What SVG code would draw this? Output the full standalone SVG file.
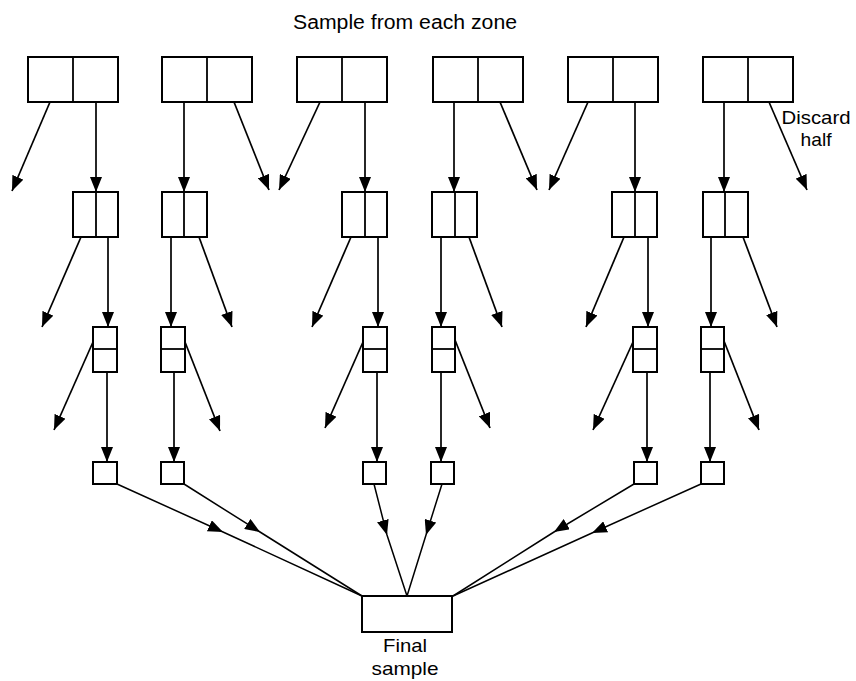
<svg xmlns="http://www.w3.org/2000/svg" width="856" height="681" viewBox="0 0 856 681">
<style>
.box{fill:#fff;stroke:#000;stroke-width:2}
.div{stroke:#000;stroke-width:1.8}
.ar{stroke:#000;stroke-width:1.7;fill:none;marker-end:url(#ah)}
.mid{stroke:#000;stroke-width:1.5;fill:none;marker-mid:url(#ah)}
text{font-family:"Liberation Sans",Arial,sans-serif;font-size:20px;fill:#000}
.lbl{font-size:19px}
</style>
<defs>
<marker id="ah" markerUnits="userSpaceOnUse" markerWidth="16" markerHeight="12" refX="15" refY="6" orient="auto">
<path d="M0,0 L15,6 L0,12 z" fill="#000"/>
</marker>
</defs>
<rect width="856" height="681" fill="#fff"/>
<text x="405" y="29" text-anchor="middle" textLength="224" lengthAdjust="spacingAndGlyphs">Sample from each zone</text>
<text class="lbl" x="816" y="124" text-anchor="middle" textLength="69" lengthAdjust="spacingAndGlyphs">Discard</text>
<text class="lbl" x="816" y="146" text-anchor="middle" textLength="31" lengthAdjust="spacingAndGlyphs">half</text>
<text class="lbl" x="405" y="652" text-anchor="middle" textLength="44" lengthAdjust="spacingAndGlyphs">Final</text>
<text class="lbl" x="405" y="675" text-anchor="middle" textLength="67" lengthAdjust="spacingAndGlyphs">sample</text>

<g id="top1"><rect class="box" x="28" y="57" width="90" height="45"/><line class="div" x1="73" y1="57" x2="73" y2="102"/></g>
<g id="top2"><rect class="box" x="162" y="57" width="90" height="45"/><line class="div" x1="207" y1="57" x2="207" y2="102"/></g>
<g id="top3"><rect class="box" x="297" y="57" width="90" height="45"/><line class="div" x1="342" y1="57" x2="342" y2="102"/></g>
<g id="top4"><rect class="box" x="433" y="57" width="90" height="45"/><line class="div" x1="478" y1="57" x2="478" y2="102"/></g>
<g id="top5"><rect class="box" x="568" y="57" width="90" height="45"/><line class="div" x1="613" y1="57" x2="613" y2="102"/></g>
<g id="top6"><rect class="box" x="703" y="57" width="90" height="45"/><line class="div" x1="748" y1="57" x2="748" y2="102"/></g>

<g id="r2a"><rect class="box" x="73" y="192" width="45" height="45"/><line class="div" x1="96" y1="192" x2="96" y2="237"/></g>
<g id="r2b"><rect class="box" x="162" y="192" width="45" height="45"/><line class="div" x1="184" y1="192" x2="184" y2="237"/></g>
<g id="r2c"><rect class="box" x="342" y="192" width="45" height="45"/><line class="div" x1="365" y1="192" x2="365" y2="237"/></g>
<g id="r2d"><rect class="box" x="432" y="192" width="45" height="45"/><line class="div" x1="455" y1="192" x2="455" y2="237"/></g>
<g id="r2e"><rect class="box" x="612" y="192" width="45" height="45"/><line class="div" x1="635" y1="192" x2="635" y2="237"/></g>
<g id="r2f"><rect class="box" x="703" y="192" width="45" height="45"/><line class="div" x1="725" y1="192" x2="725" y2="237"/></g>

<g id="r3a"><rect class="box" x="93" y="327" width="24" height="45"/><line class="div" x1="93" y1="349" x2="117" y2="349"/></g>
<g id="r3b"><rect class="box" x="161" y="327" width="24" height="45"/><line class="div" x1="161" y1="349" x2="185" y2="349"/></g>
<g id="r3c"><rect class="box" x="363" y="327" width="24" height="45"/><line class="div" x1="363" y1="349" x2="387" y2="349"/></g>
<g id="r3d"><rect class="box" x="432" y="327" width="23" height="45"/><line class="div" x1="432" y1="349" x2="455" y2="349"/></g>
<g id="r3e"><rect class="box" x="633" y="327" width="24" height="45"/><line class="div" x1="633" y1="349" x2="657" y2="349"/></g>
<g id="r3f"><rect class="box" x="701" y="327" width="23" height="45"/><line class="div" x1="701" y1="349" x2="724" y2="349"/></g>

<g id="r4a"><rect class="box" x="93" y="462" width="24" height="22"/></g>
<g id="r4b"><rect class="box" x="161" y="462" width="23" height="22"/></g>
<g id="r4c"><rect class="box" x="363" y="462" width="23" height="22"/></g>
<g id="r4d"><rect class="box" x="431" y="462" width="23" height="22"/></g>
<g id="r4e"><rect class="box" x="634" y="462" width="23" height="22"/></g>
<g id="r4f"><rect class="box" x="701" y="462" width="23" height="22"/></g>

<g id="final"><rect class="box" x="362" y="596" width="90" height="36"/></g>

<g id="connectors">
<line class="ar" x1="96" y1="102" x2="96" y2="192"/>
<line class="ar" x1="184" y1="102" x2="184" y2="192"/>
<line class="ar" x1="365" y1="102" x2="365" y2="192"/>
<line class="ar" x1="454" y1="102" x2="454" y2="192"/>
<line class="ar" x1="635" y1="102" x2="635" y2="192"/>
<line class="ar" x1="724" y1="102" x2="724" y2="192"/>
<line class="ar" x1="50" y1="102" x2="12" y2="191"/>
<line class="ar" x1="234" y1="102" x2="269" y2="190"/>
<line class="ar" x1="320" y1="102" x2="279" y2="190"/>
<line class="ar" x1="500" y1="102" x2="537" y2="190"/>
<line class="ar" x1="588" y1="102" x2="549" y2="190"/>
<line class="ar" x1="769" y1="102" x2="807" y2="190"/>

<line class="ar" x1="108" y1="237" x2="108" y2="327"/>
<line class="ar" x1="171" y1="237" x2="171" y2="327"/>
<line class="ar" x1="378" y1="237" x2="378" y2="327"/>
<line class="ar" x1="441" y1="237" x2="441" y2="327"/>
<line class="ar" x1="648" y1="237" x2="648" y2="327"/>
<line class="ar" x1="711" y1="237" x2="711" y2="327"/>
<line class="ar" x1="81" y1="237" x2="42" y2="327"/>
<line class="ar" x1="199" y1="237" x2="232" y2="327"/>
<line class="ar" x1="351" y1="237" x2="312" y2="327"/>
<line class="ar" x1="469" y1="237" x2="502" y2="327"/>
<line class="ar" x1="624" y1="237" x2="586" y2="327"/>
<line class="ar" x1="743" y1="237" x2="777" y2="327"/>

<line class="ar" x1="107" y1="372" x2="107" y2="462"/>
<line class="ar" x1="174" y1="372" x2="174" y2="462"/>
<line class="ar" x1="377" y1="372" x2="377" y2="462"/>
<line class="ar" x1="441" y1="372" x2="441" y2="462"/>
<line class="ar" x1="647" y1="372" x2="647" y2="462"/>
<line class="ar" x1="710" y1="372" x2="710" y2="462"/>
<line class="ar" x1="93" y1="342" x2="54" y2="430"/>
<line class="ar" x1="185" y1="342" x2="220" y2="431"/>
<line class="ar" x1="363" y1="342" x2="325" y2="428"/>
<line class="ar" x1="455" y1="340" x2="490" y2="428"/>
<line class="ar" x1="633" y1="342" x2="593" y2="430"/>
<line class="ar" x1="724" y1="341" x2="759" y2="430"/>

<polyline class="mid" points="117,484 223,532 362,596"/>
<polyline class="mid" points="184,484 260,532 362,596"/>
<polyline class="mid" points="374,484 387,535 407,596"/>
<polyline class="mid" points="442,484 426,535 407,596"/>
<polyline class="mid" points="634,484 554,532 453,596"/>
<polyline class="mid" points="701,484 592,533 453,596"/>
</g>
</svg>
